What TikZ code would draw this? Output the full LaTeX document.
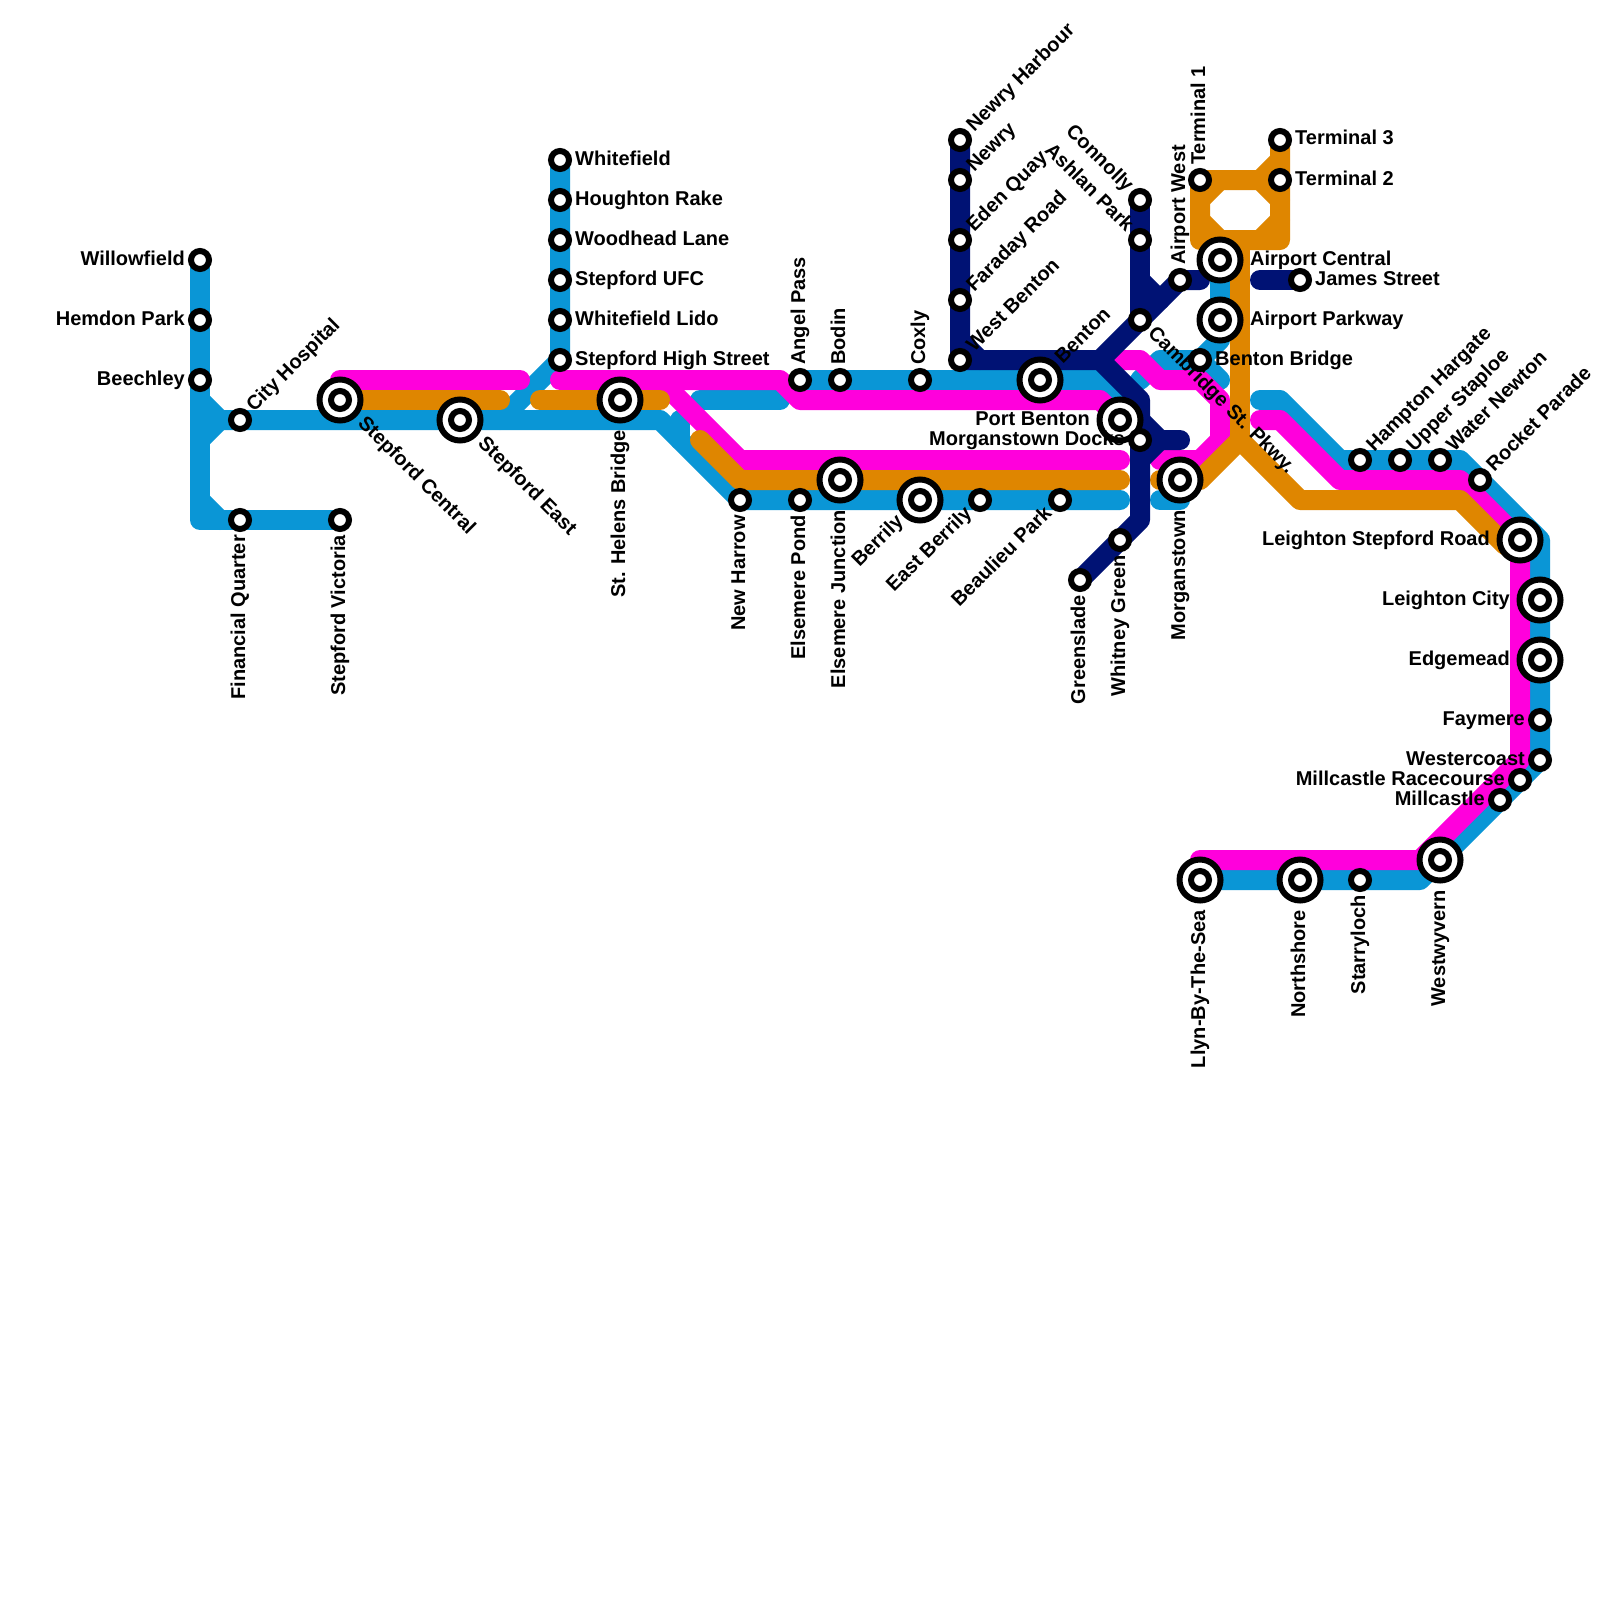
\documentclass[tikz,border=0pt]{standalone}
\usepackage{fontspec}
\setmainfont{Liberation Sans}
\definecolor{mblue}{HTML}{0A96D6}
\definecolor{mpink}{HTML}{FF00DC}
\definecolor{mor}{HTML}{DF8600}
\definecolor{mnavy}{HTML}{001274}
\tikzset{
 route/.style={line width=20pt,line cap=round,line join=round},
 rb/.style={route,draw=mblue}, rp/.style={route,draw=mpink}, ro/.style={route,draw=mor}, rn/.style={route,draw=mnavy},
 stn/.style={circle,draw=black,line width=6pt,fill=white,minimum size=18pt,inner sep=0pt},
 hub/.style={circle,draw=black,line width=6pt,fill=white,minimum size=41pt,inner sep=0pt},
 txt/.style={font=\fontsize{20}{22}\selectfont\bfseries,inner sep=0pt,text height=10pt,text depth=0pt,text=black},
 toR/.style={txt,xshift=#1,anchor=west}, toR/.default=15pt,
 toL/.style={txt,xshift=-#1,anchor=east}, toL/.default=15pt,
 toU/.style={txt,yshift=#1,rotate=90,anchor=west}, toU/.default=15pt,
 toD/.style={txt,yshift=-#1,rotate=90,anchor=east}, toD/.default=15pt,
 toUR/.style={txt,xshift=0.7071*#1,yshift=0.7071*#1,rotate=45,anchor=west}, toUR/.default=15pt,
 toDL/.style={txt,xshift=-0.7071*#1,yshift=-0.7071*#1,rotate=45,anchor=east}, toDL/.default=15pt,
 toDR/.style={txt,xshift=0.7071*#1,yshift=-0.7071*#1,rotate=-45,anchor=west}, toDR/.default=15pt,
 toUL/.style={txt,xshift=-0.7071*#1,yshift=0.7071*#1,rotate=-45,anchor=east}, toUL/.default=15pt,
}
\begin{document}
\begin{tikzpicture}[x=1pt,y=-1pt]
\useasboundingbox (0,0) rectangle (1600,1600);
\fill[white] (0,0) rectangle (1600,1600);
% station positions
\foreach \n/\p in {willow/{200,260},hemdon/{200,320},beech/{200,380},cityh/{240,420},finq/{240,520},stvic/{340,520},stcen/{340,400},steast/{460,420},sthel/{620,400},
 whitef/{560,160},hough/{560,200},wood/{560,240},ufc/{560,280},lido/{560,320},high/{560,360},
 angel/{800,380},bodin/{840,380},coxly/{920,380},benton/{1040,380},newh/{740,500},epond/{800,500},ejunc/{840,480},berr/{920,500},eberr/{980,500},beau/{1060,500},
 newryh/{960,140},newry/{960,180},eden/{960,240},farad/{960,300},wben/{960,360},conn/{1140,200},ashl/{1140,240},camb/{1140,320},airw/{1180,280},airc/{1220,260},airp/{1220,320},bbri/{1200,360},james/{1300,280},
 tone/{1200,180},tthree/{1280,140},ttwo/{1280,180},pben/{1120,420},mdock/{1140,440},morg/{1180,480},whit/{1120,540},green/{1080,580},
 hamp/{1360,460},upper/{1400,460},water/{1440,460},rock/{1480,480},lsr/{1520,540},lcity/{1540,600},edge/{1540,660},faym/{1540,720},west/{1540,760},mrace/{1520,780},mill/{1500,800},wwyv/{1440,860},starr/{1360,880},north/{1300,880},llyn/{1200,880}}
 {\coordinate (\n) at (\p);}
% blue line
\draw[rb] (willow)--(200,520)--(stvic);
\draw[rb] (200,400)--(220,420)--(660,420)--(newh)--(1120,500);
\draw[rb] (200,440)--(220,420);
\draw[rb] (200,500)--(220,520);
\draw[rb] (whitef)--(high)--(500,420);
\draw[rb] (780,400)--(700,400);
\draw[rb] (680,420)--(680,440);
\draw[rb] (angel)--(1100,380)--(1120,400);
\draw[rb] (1140,380)--(1160,360)--(bbri)--(1220,380);
\draw[rb] (airc)--(1220,340)--(bbri);
\draw[rb] (1160,500)--(1180,500);
\draw[rb] (1260,400)--(1280,400)--(1340,460)--(1460,460)--(1540,540)--(west)--(wwyv)--(1420,880)--(llyn);
% pink line
\draw[rp] (340,380)--(520,380);
\draw[rp] (560,380)--(780,380)--(800,400)--(1100,400)--(1120,420);
\draw[rp] (660,380)--(740,460)--(1120,460);
\draw[rp] (1100,360)--(1140,360)--(1160,380)--(1200,380)--(1220,400)--(1220,440)--(1200,460)--(1160,460);
\draw[rp] (1260,420)--(1280,420)--(1340,480)--(1460,480)--(lsr)--(1520,760)--(1420,860)--(1200,860);
% orange line
\draw[ro] (stcen)--(500,400);
\draw[ro] (540,400)--(660,400);
\draw[ro] (700,440)--(740,480)--(1120,480);
\draw[ro] (1160,480)--(1200,480)--(1240,440)--(1300,500)--(1460,500)--(1505,545);
\draw[ro] (1240,240)--(1240,440);
\draw[ro] (tthree)--(1280,240)--(1200,240)--(tone)--(1260,180)--(1280,160);
\draw[ro] (1200,200)--(1220,180);
\draw[ro] (1260,180)--(1280,200);
\draw[ro] (1280,220)--(1260,240);
\draw[ro] (1220,240)--(1200,220);
% navy line
\draw[rn] (newryh)--(wben)--(1100,360)--(1140,400)--(1140,520)--(green);
\draw[rn] (960,340)--(980,360);
\draw[rn] (1100,360)--(airw)--(1200,280);
\draw[rn] (conn)--(camb);
\draw[rn] (1140,280)--(1160,300);
\draw[rn] (1140,420)--(1160,440)--(1180,440);
\draw[rn] (1140,460)--(1160,440);
\draw[rn] (1260,280)--(james);
% stations
\foreach \n in {stcen,steast,sthel,benton,ejunc,berr,airc,airp,pben,morg,lsr,lcity,edge,wwyv,north,llyn}
 {\node[hub] (h-\n) at (\n) {};}
\foreach \n in {willow,hemdon,beech,cityh,finq,stvic,stcen,steast,sthel,whitef,hough,wood,ufc,lido,high,angel,bodin,coxly,benton,newh,epond,ejunc,berr,eberr,beau,newryh,newry,eden,farad,wben,conn,ashl,camb,airw,airc,airp,bbri,james,tone,tthree,ttwo,pben,mdock,morg,whit,green,hamp,upper,water,rock,lsr,lcity,edge,faym,west,mrace,mill,wwyv,starr,north,llyn}
 {\node[stn] (s-\n) at (\n) {};}
% labels
\node[toL] (l1) at (willow) {Willowfield};
\node[toL] (l2) at (hemdon) {Hemdon Park};
\node[toL] (l3) at (beech) {Beechley};
\node[toUR] (l4) at (cityh) {City Hospital};
\node[toD] (l5) at (finq) {Financial Quarter};
\node[toD] (l6) at (stvic) {Stepford Victoria};
\node[toDR=29pt] (l7) at (stcen) {Stepford Central};
\node[toDR=29pt] (l8) at (steast) {Stepford East};
\node[toD=30pt] (l9) at (sthel) {St. Helens Bridge};
\node[toR] (l10) at (whitef) {Whitefield};
\node[toR] (l11) at (hough) {Houghton Rake};
\node[toR] (l12) at (wood) {Woodhead Lane};
\node[toR] (l13) at (ufc) {Stepford UFC};
\node[toR] (l14) at (lido) {Whitefield Lido};
\node[toR] (l15) at (high) {Stepford High Street};
\node[toU] (l16) at (angel) {Angel Pass};
\node[toU] (l17) at (bodin) {Bodin};
\node[toU] (l18) at (coxly) {Coxly};
\node[toUR=27pt] (l19) at (benton) {Benton};
\node[toD] (l20) at (newh) {New Harrow};
\node[toD] (l21) at (epond) {Elsemere Pond};
\node[toD=30pt] (l22) at (ejunc) {Elsemere Junction};
\node[toDL=27pt] (l23) at (berr) {Berrily};
\node[toDL] (l24) at (eberr) {East Berrily};
\node[toDL] (l25) at (beau) {Beaulieu Park};
\node[toUR] (l26) at (newryh) {Newry Harbour};
\node[toUR] (l27) at (newry) {Newry};
\node[toUR] (l28) at (eden) {Eden Quay};
\node[toUR] (l29) at (farad) {Faraday Road};
\node[toUR] (l30) at (wben) {West Benton};
\node[toUL] (l31) at (conn) {Connolly};
\node[toUL] (l32) at (ashl) {Ashlan Park};
\node[toDR] (l33) at (camb) {Cambridge St. Pkwy.};
\node[toU] (l34) at (airw) {Airport West};
\node[toR=30pt] (l35) at (airc) {Airport Central};
\node[toR=30pt] (l36) at (airp) {Airport Parkway};
\node[toR] (l37) at (bbri) {Benton Bridge};
\node[toR] (l38) at (james) {James Street};
\node[toU] (l39) at (tone) {Terminal 1};
\node[toR] (l40) at (tthree) {Terminal 3};
\node[toR] (l41) at (ttwo) {Terminal 2};
\node[toL=30pt] (l42) at (pben) {Port Benton};
\node[toL] (l43) at (mdock) {Morganstown Docks};
\node[toD=30pt] (l44) at (morg) {Morganstown};
\node[toD] (l45) at (whit) {Whitney Green};
\node[toD] (l46) at (green) {Greenslade};
\node[toUR] (l47) at (hamp) {Hampton Hargate};
\node[toUR] (l48) at (upper) {Upper Staploe};
\node[toUR] (l49) at (water) {Water Newton};
\node[toUR] (l50) at (rock) {Rocket Parade};
\node[toL=30pt] (l51) at (lsr) {Leighton Stepford Road};
\node[toL=30pt] (l52) at (lcity) {Leighton City};
\node[toL=30pt] (l53) at (edge) {Edgemead};
\node[toL] (l54) at (faym) {Faymere};
\node[toL] (l55) at (west) {Westercoast};
\node[toL] (l56) at (mrace) {Millcastle Racecourse};
\node[toL] (l57) at (mill) {Millcastle};
\node[toD=30pt] (l58) at (wwyv) {Westwyvern};
\node[toD] (l59) at (starr) {Starryloch};
\node[toD=30pt] (l60) at (north) {Northshore};
\node[toD=30pt] (l61) at (llyn) {Llyn-By-The-Sea};
\end{tikzpicture}
\end{document}
